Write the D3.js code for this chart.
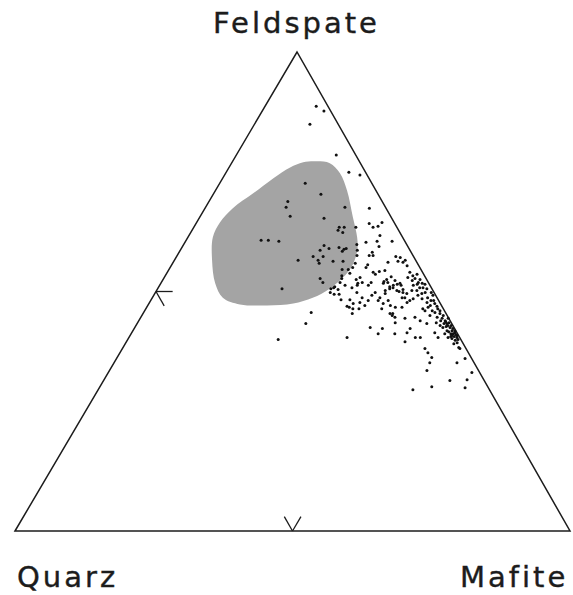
<!DOCTYPE html>
<html>
<head>
<meta charset="utf-8">
<script src="https://cdn.jsdelivr.net/npm/d3@7"></script>
<style>
	body { margin: 0; background: #fff; }
	svg { display: block; }
	.corner-label { font-family: "DejaVu Sans", sans-serif; font-size: 29px; letter-spacing: 3px; fill: #1c1c1c; stroke: #1c1c1c; stroke-width: 0.4px; }
</style>
</head>
<body>
<svg id="chart" width="573" height="595"></svg>
<script>
// corner names of the triangle
const cornerQ = "Quarz";
const cornerF = "Feldspate";
const cornerM = "Mafite";

// half-way marks on the Q-F and Q-M sides (percent)
const halfMark = 50;
const markLength = 3;

// outline of the shaded field, [feldspar %, mafic %]
const fieldOutline = [
	[77.0, 12.8], [77.2, 15.2], [76.8, 17.7], [74.7, 20.6], [71.1, 23.7], [65.5, 27.6],
	[61.3, 30.5], [58.6, 31.9], [55.4, 32.6], [52.9, 32.2], [50.6, 31.0], [48.7, 28.9],
	[47.5, 26.0], [47.1, 21.5], [47.3, 16.5], [48.7, 12.7], [51.7, 9.8], [56.5, 6.8],
	[61.3, 4.5], [64.4, 4.2], [67.4, 5.0], [70.5, 7.1], [73.6, 9.1], [75.9, 11.0]
];

// samples, [feldspar %, mafic %]
const samples = [
	[88.7, 9.2], [87.7, 11.1], [84.9, 10.0], [78.5, 18.0], [74.9, 22.1], [74.3, 24.4],
	[72.6, 15.4], [70.3, 19.4], [68.8, 14.2], [67.6, 14.5], [67.6, 25.1], [65.7, 16.2],
	[65.3, 22.5], [63.4, 26.2], [63.4, 27.1], [62.8, 26.3], [62.3, 27.4], [63.4, 29.2],
	[60.7, 13.5], [60.7, 14.8], [60.5, 16.8], [59.6, 25.4], [59.0, 26.6], [58.6, 25.2],
	[59.2, 28.3], [58.8, 29.4], [58.4, 29.3], [59.0, 29.7], [59.8, 31.2], [58.6, 31.9],
	[57.5, 32.4], [57.3, 24.6], [57.3, 26.4], [56.5, 25.9], [55.9, 26.4], [56.5, 22.3],
	[56.3, 28.7], [56.3, 30.5], [55.9, 32.9], [54.6, 31.2], [54.6, 32.3], [55.0, 32.9],
	[52.7, 28.2], [51.9, 29.1], [52.7, 32.1], [50.6, 22.4], [50.6, 31.2], [51.0, 31.7],
	[51.9, 32.2], [53.3, 31.8], [51.3, 33.4],
	[67.4, 29.6], [64.2, 31.2], [63.4, 32.3], [63.6, 33.1], [64.4, 33.4], [61.7, 34.4],
	[60.3, 32.6], [60.5, 34.5], [60.5, 37.2], [59.4, 35.4], [58.2, 34.8], [57.5, 34.6],
	[57.5, 35.3], [55.6, 35.3], [55.0, 35.3], [56.1, 38.7], [57.3, 39.5], [57.1, 40.4],
	[56.3, 40.4], [56.1, 41.4], [56.5, 41.6], [55.4, 42.5],
	[54.0, 43.7], [53.3, 44.6], [52.7, 45.3], [52.3, 45.0], [52.9, 43.9], [53.6, 45.2],
	[52.5, 46.3], [54.4, 39.0], [54.2, 38.1], [54.0, 37.1], [53.6, 37.7], [53.1, 40.8],
	[52.5, 40.3], [52.1, 40.0], [52.3, 41.9], [51.5, 42.7], [50.8, 42.3], [51.0, 41.6],
	[51.3, 43.5], [50.4, 44.3], [50.0, 43.8], [52.9, 35.3], [51.9, 36.2], [51.7, 35.5],
	[52.5, 34.8], [51.9, 37.8], [51.3, 37.6], [51.9, 46.3], [51.7, 47.1], [50.8, 47.1],
	[50.8, 47.7], [50.2, 46.9], [49.8, 48.6], [50.6, 48.5], [49.6, 48.1], [51.7, 40.1],
	[51.9, 40.8], [51.3, 42.1], [50.6, 41.8], [50.2, 41.2], [50.2, 43.3], [51.7, 43.1],
	[49.8, 44.6], [49.6, 45.4], [50.2, 46.0], [51.3, 45.7], [51.5, 46.3], [49.2, 47.6],
	[48.5, 48.7], [48.7, 49.6], [49.4, 32.4], [49.4, 33.3], [48.3, 34.2], [49.8, 36.3],
	[48.7, 37.8], [49.2, 39.3], [49.8, 39.6], [48.7, 41.0], [49.6, 41.5], [48.1, 42.8],
	[48.3, 35.8],
	[48.7, 45.5], [48.1, 46.7], [48.5, 47.1], [47.7, 46.4], [48.7, 45.0], [48.1, 50.5],
	[49.2, 50.3], [47.7, 50.0], [47.5, 51.5], [47.1, 50.9], [48.1, 41.0], [47.5, 42.2],
	[47.7, 37.9], [47.1, 39.1], [47.5, 36.8], [46.9, 36.0], [46.7, 36.5], [46.4, 37.3],
	[45.4, 37.7], [46.4, 38.4], [48.1, 39.2], [46.4, 42.5], [45.4, 44.5], [47.1, 43.7],
	[46.7, 44.8], [46.7, 46.0], [46.7, 50.7], [46.4, 49.9], [46.0, 51.8], [45.6, 52.5],
	[46.4, 52.6], [45.4, 53.5], [44.6, 53.4], [44.4, 54.4], [45.0, 54.3], [45.4, 45.0],
	[44.6, 45.8], [45.0, 45.1], [44.4, 47.7], [44.6, 49.4], [43.9, 50.7], [45.6, 30.2],
	[43.9, 55.2], [43.3, 55.8], [44.4, 55.5], [42.5, 56.8], [41.8, 57.5], [41.2, 58.0],
	[41.8, 58.0], [40.8, 58.9], [41.2, 57.6], [41.8, 56.6], [42.7, 56.0], [43.9, 54.4],
	[43.3, 55.3], [40.6, 58.5], [43.3, 52.2], [43.5, 46.4], [42.3, 44.7], [41.2, 47.5],
	[41.4, 49.6], [42.3, 49.7], [40.4, 51.6], [40.4, 52.5], [39.5, 50.2], [41.4, 54.6],
	[40.4, 55.7], [41.2, 56.5], [40.4, 57.5], [40.2, 58.3], [39.8, 59.1], [39.3, 59.7],
	[43.3, 30.4], [42.5, 42.4], [41.2, 44.5], [40.4, 39.3], [40.0, 27.1],
	[43.5, 56.1], [42.9, 56.8], [42.3, 57.4], [41.4, 58.2], [40.4, 59.1], [40.0, 59.5],
	[41.0, 58.6], [40.8, 58.0], [41.6, 57.0], [42.5, 55.5], [42.9, 54.8],
	[48.1, 51.0], [46.0, 53.2], [43.7, 55.4], [42.9, 56.2], [49.8, 49.7], [51.5, 47.7],
	[46.9, 52.2], [40.6, 57.9], [43.5, 53.8], [45.0, 51.9], [46.0, 50.5],
	[38.1, 60.8], [38.1, 54.5], [37.2, 55.5], [36.2, 56.7], [35.1, 56.9], [35.1, 61.8],
	[36.0, 62.8], [33.5, 57.2], [33.1, 65.5], [31.4, 62.4], [31.6, 65.4], [30.1, 59.8],
	[29.9, 65.9], [29.5, 56.7], [39.1, 59.2], [38.3, 60.5],
	[49.8, 31.5], [50.8, 31.6], [50.4, 32.6], [53.8, 33.0], [51.3, 35.6], [50.8, 34.9]
];

const svg = d3.select("#chart");

// ternary projection: feldspar sets the height, mafic % runs along the base
const yF = d3.scaleLinear().domain([0, 100]).range([531, 52]);
const xM = d3.scaleLinear().domain([0, 100]).range([15, 570]);
const xLean = d3.scaleLinear().domain([0, 100]).range([0, 282]);
const pos = ([f, m]) => [xM(m) + xLean(f), yF(f)];

const ink = "#1c1c1c";

// shaded field
svg.append("path")
	.attr("d", d3.line().curve(d3.curveCatmullRomClosed.alpha(0.5))(fieldOutline.map(pos)))
	.attr("fill", "#a4a4a4")
	.attr("stroke", "none");

// triangle
const corners = [[0, 0], [100, 0], [0, 100]];
svg.append("path")
	.attr("d", d3.line()(corners.map(pos)) + "Z")
	.attr("fill", "none")
	.attr("stroke", ink)
	.attr("stroke-width", 1.5)
	.attr("stroke-linejoin", "miter");

// half-way marks, drawn parallel to the other sides
const marks = [
	[[halfMark, 0], [halfMark, markLength]],
	[[halfMark, 0], [halfMark - markLength, markLength]],
	[[0, halfMark], [markLength, halfMark - markLength]],
	[[0, halfMark], [markLength, halfMark]]
];
svg.selectAll("path.mark")
	.data(marks)
	.join("path")
	.attr("class", "mark")
	.attr("d", (d) => d3.line()(d.map(pos)))
	.attr("stroke", ink)
	.attr("stroke-width", 1.3)
	.attr("fill", "none");

// samples
svg.selectAll("circle.sample")
	.data(samples)
	.join("circle")
	.attr("class", "sample")
	.attr("cx", (d) => pos(d)[0])
	.attr("cy", (d) => pos(d)[1])
	.attr("r", 1.5)
	.attr("fill", "#111");

// corner labels
svg.append("text").attr("class", "corner-label").attr("x", 213).attr("y", 33).text(cornerF);
svg.append("text").attr("class", "corner-label").attr("x", 17).attr("y", 587).text(cornerQ);
svg.append("text").attr("class", "corner-label").attr("x", 460).attr("y", 587).text(cornerM);
</script>
</body>
</html>
